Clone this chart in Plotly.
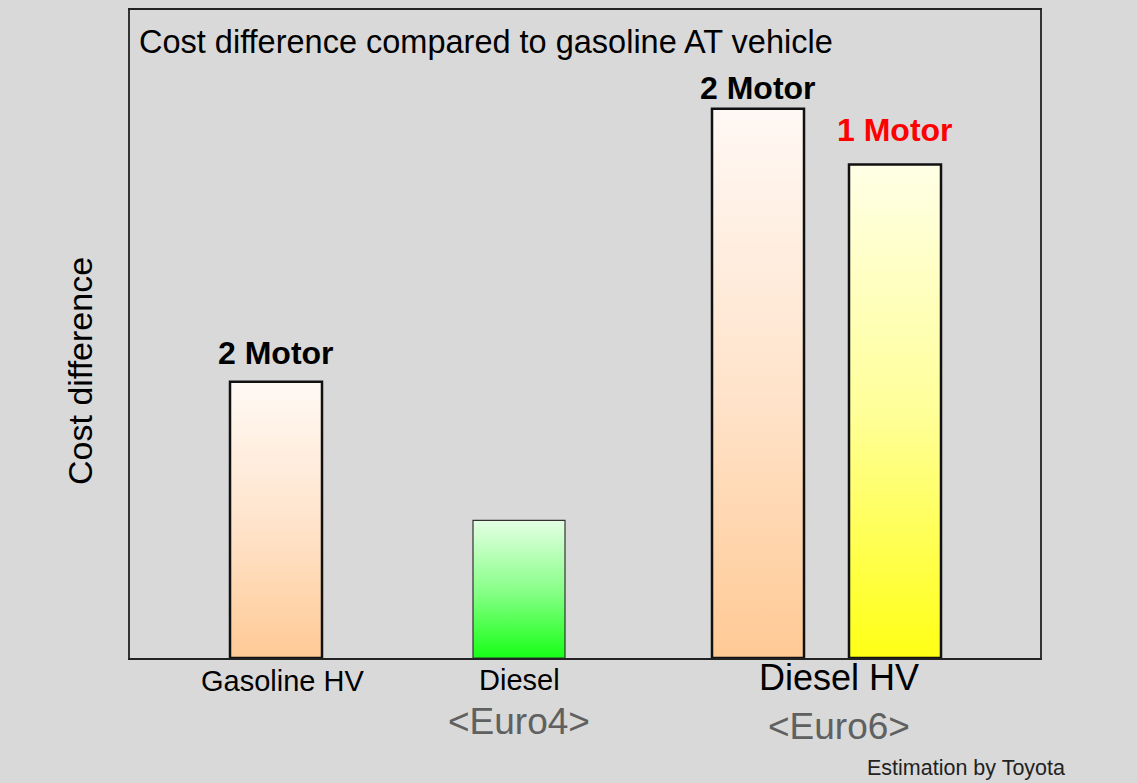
import plotly.graph_objects as go

# ---- data ----
bar_labels = ["Gasoline HV 2 Motor", "Diesel", "Diesel HV 2 Motor", "Diesel HV 1 Motor"]
cost_values = [277, 138, 551, 495]
motor_tags = ["2 Motor", "", "2 Motor", "1 Motor"]
group_labels = ["Gasoline HV", "Diesel", "Diesel HV"]
euro_labels = ["", "<Euro4>", "<Euro6>"]

# ---- styling / layout ----
x_pos = [1.46, 3.89, 6.28, 7.65]
group_x = [1.52, 3.89, 7.09]
bar_w = 0.92
top_colors = ["#fff9f4", "#e2ffe2", "#fff8f4", "#ffffe6"]
mid_colors = ["#ffe4cc", "#88ff88", "#ffe4cc", "#ffff99"]
bot_colors = ["#ffc994", "#14ff14", "#ffc994", "#ffff14"]
edge_colors = ["#111111", "#333333", "#111111", "#111111"]
edge_widths = [2.5, 1.2, 2.5, 2.5]
tag_colors = ["#000000", "#000000", "#000000", "#ff0000"]
tag_offsets = [29, 0, 21, 35]
BG = "#d9d9d9"
FONT = "Liberation Sans, Arial, sans-serif"

fig = go.Figure()

# gradient-filled bars
for lab, xp, v, tc, mc, bc, ec, ew in zip(bar_labels, x_pos, cost_values, top_colors,
                                          mid_colors, bot_colors, edge_colors, edge_widths):
    x0, x1 = xp - bar_w / 2, xp + bar_w / 2
    fig.add_trace(go.Scatter(
        x=[x0, x1, x1, x0, x0], y=[0, 0, v, v, 0], name=lab,
        mode="lines", fill="toself", line=dict(width=ew, color=ec),
        fillgradient=dict(type="vertical", colorscale=[[0, bc], [0.5, mc], [1, tc]],
                          start=0, stop=v),
        hoverinfo="name", showlegend=False,
    ))

# motor tags
for xp, v, t, c, off in zip(x_pos, cost_values, motor_tags, tag_colors, tag_offsets):
    if t:
        fig.add_annotation(x=xp, y=v + off, text=f"<b>{t}</b>", showarrow=False,
                           yanchor="middle",
                           font=dict(family=FONT, size=32, color=c))

# category labels (paper coords below the plot)
group_sizes = [29, 29, 36]
group_y = [-0.0354, -0.0338, -0.0308]
for gx, g, s, gy in zip(group_x, group_labels, group_sizes, group_y):
    fig.add_annotation(x=gx, xref="x", yref="paper", y=gy, text=g, showarrow=False,
                       yanchor="middle", font=dict(family=FONT, size=s, color="#000000"))
euro_y = [0, -0.0985, -0.106]
for gx, e, ey in zip(group_x, euro_labels, euro_y):
    if e:
        fig.add_annotation(x=gx, xref="x", yref="paper", y=ey, text=e, showarrow=False,
                           yanchor="middle", font=dict(family=FONT, size=37, color="#606060"))

fig.add_annotation(x=0.07, y=618, xanchor="left", yanchor="middle", showarrow=False,
                   text="Cost difference compared to gasoline AT vehicle",
                   font=dict(family=FONT, size=32.5, color="#000000"))
fig.add_annotation(xref="paper", yref="paper", x=0.9187, y=-0.169, xanchor="center",
                   yanchor="middle", showarrow=False, text="Estimation by Toyota",
                   font=dict(family=FONT, size=21.5, color="#222222"))
fig.add_annotation(xref="paper", yref="paper", x=-0.0549, y=0.443, textangle=-90,
                   xanchor="center", yanchor="middle", showarrow=False,
                   text="Cost difference",
                   font=dict(family=FONT, size=34, color="#000000"))

fig.update_layout(
    width=1137, height=783,
    paper_bgcolor=BG, plot_bgcolor=BG,
    margin=dict(l=130, r=97, t=8, b=125),
)
fig.update_xaxes(range=[0, 9.1], showgrid=False, zeroline=False, showticklabels=False,
                 ticks="", showline=True, mirror=True, linecolor="#222222", linewidth=2)
fig.update_yaxes(range=[0, 650], showgrid=False, zeroline=False, showticklabels=False,
                 ticks="", showline=True, mirror=True, linecolor="#333333", linewidth=1.5)

fig.write_html("out.html", config={"displayModeBar": False},
               post_script="document.body.style.margin='0';"
                           "document.body.style.background='#d9d9d9';")
